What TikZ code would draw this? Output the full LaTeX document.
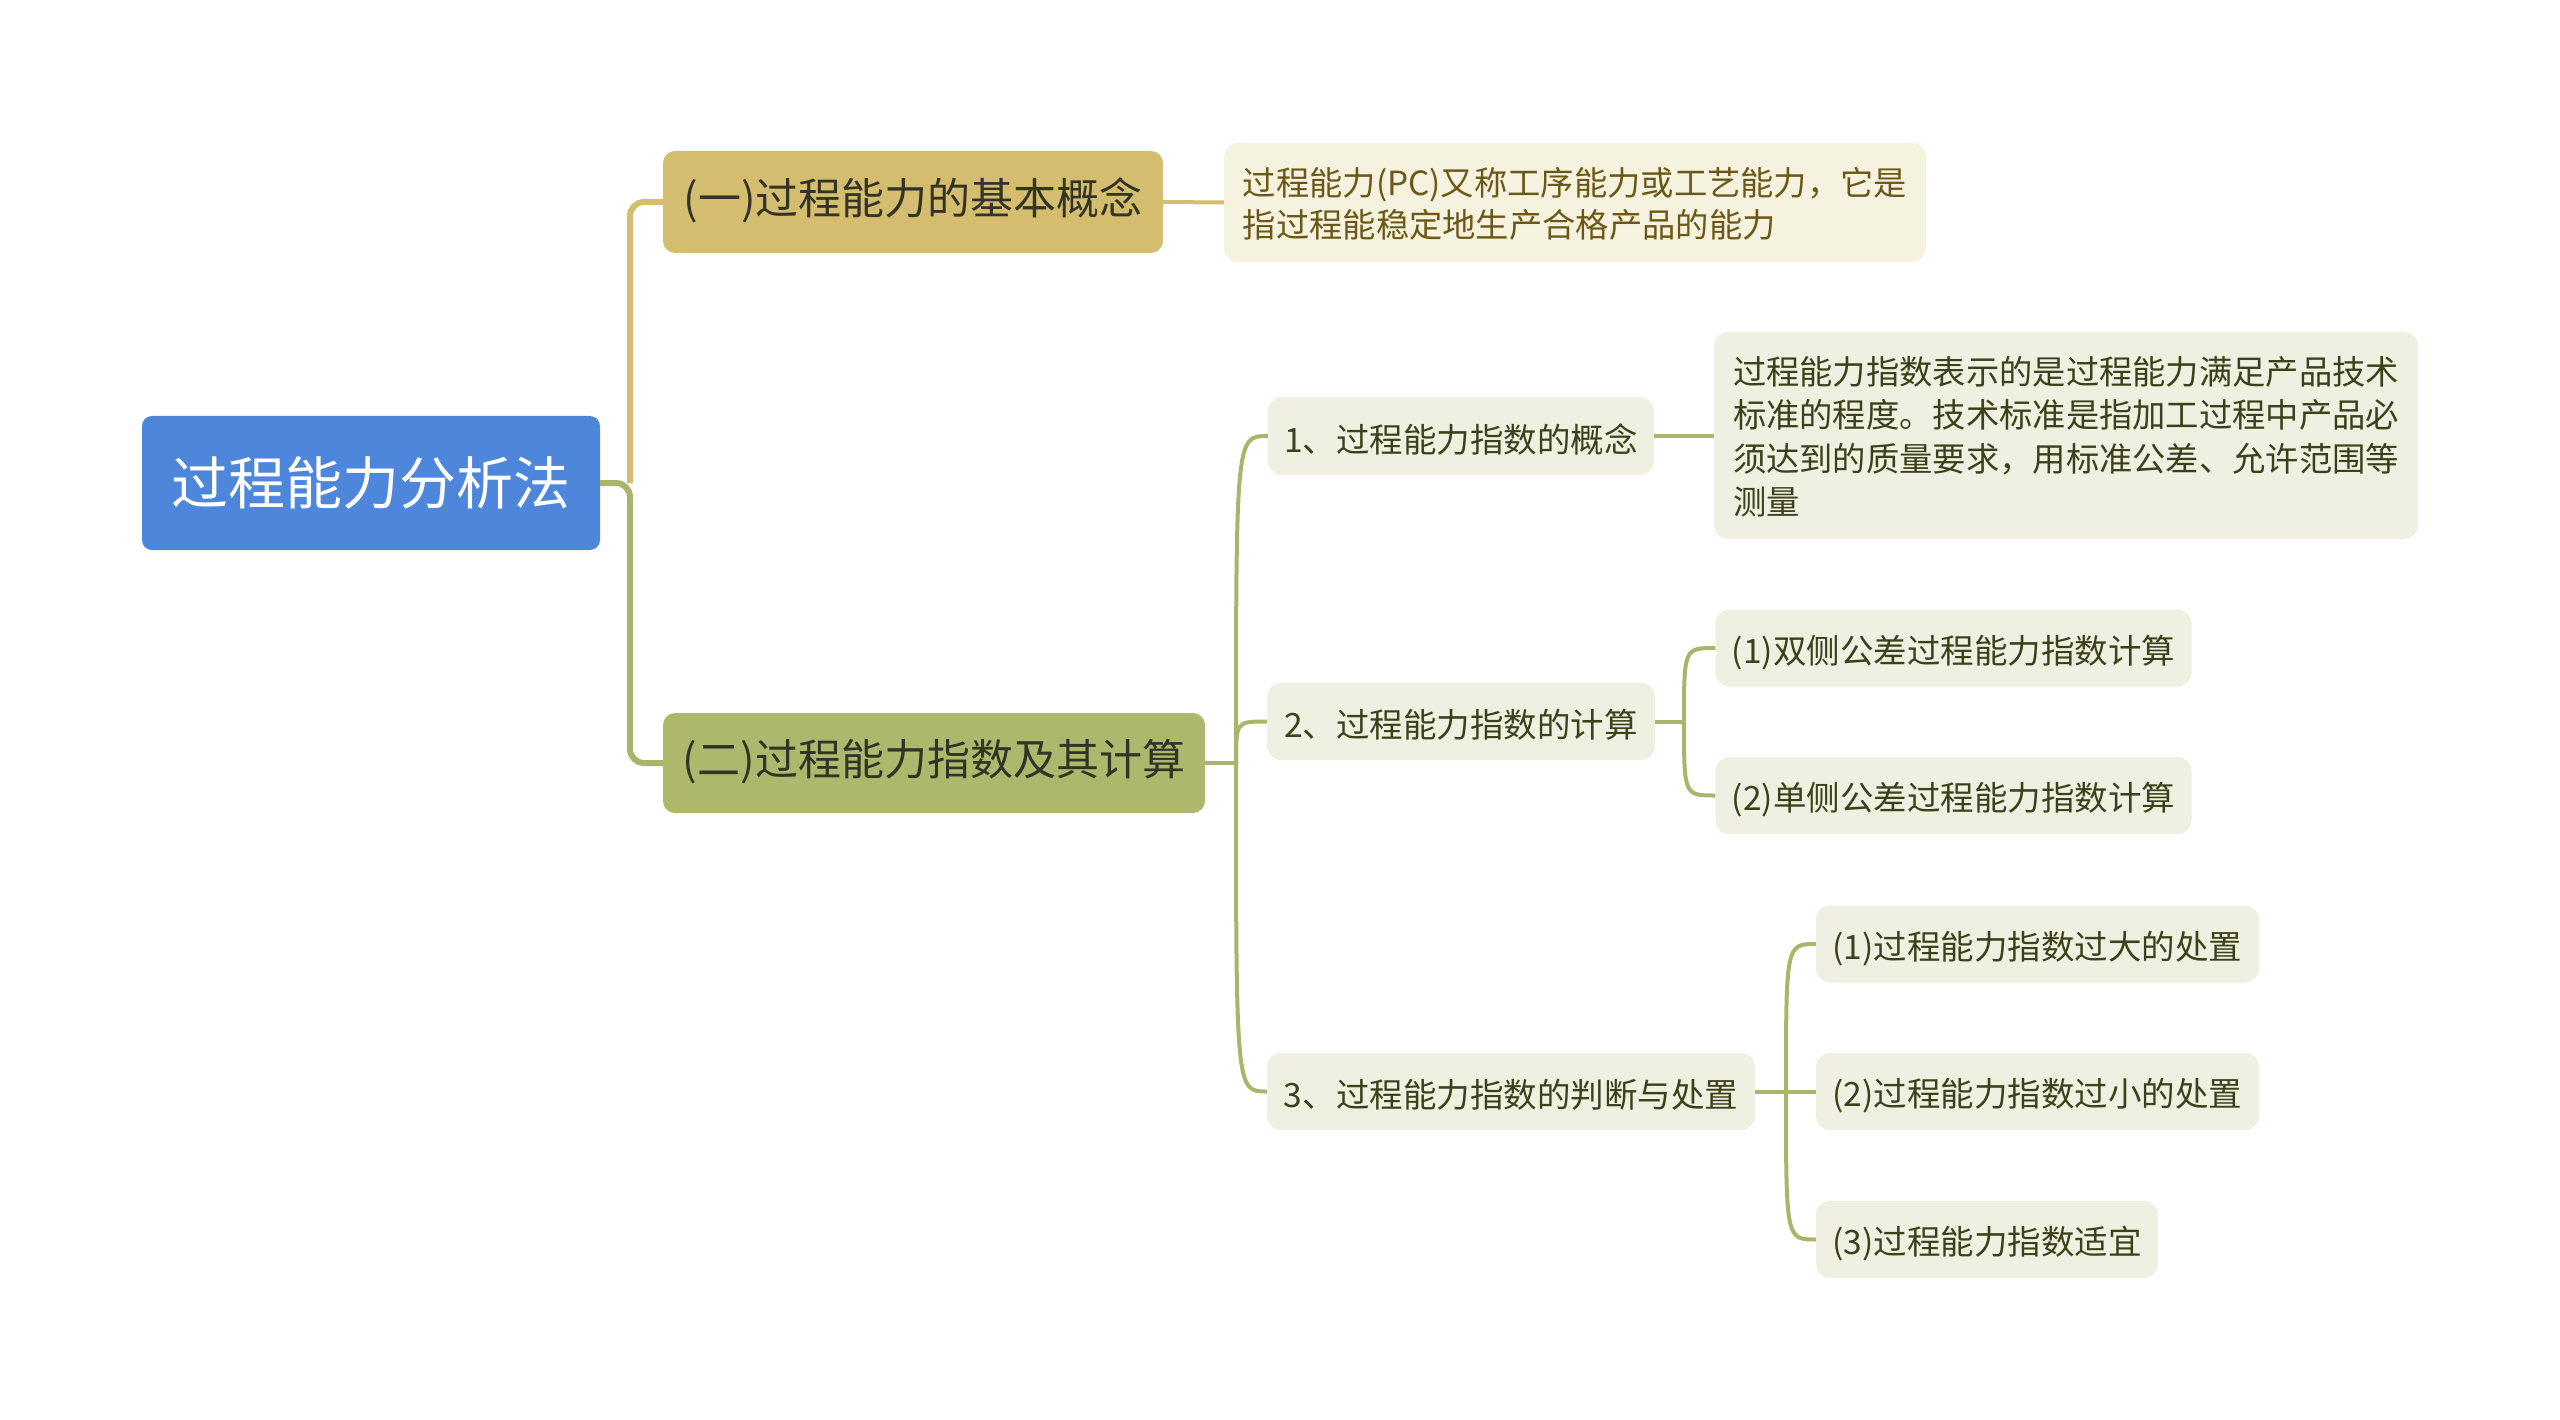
\documentclass[tikz,border=0pt]{standalone}
\usepackage{fontspec}
\setmainfont{Noto Sans CJK SC}
\usetikzlibrary{calc}
\definecolor{rootblue}{RGB}{77,134,218}
\definecolor{goldfill}{RGB}{212,189,110}
\definecolor{olivefill}{RGB}{174,184,109}
\definecolor{descfill}{RGB}{246,242,224}
\definecolor{leaffill}{RGB}{239,239,226}
\definecolor{darktext}{RGB}{51,51,38}
\definecolor{desctext}{RGB}{107,88,22}
\definecolor{leaftext}{RGB}{61,64,25}
\definecolor{goldline}{RGB}{212,190,110}
\definecolor{oliveline}{RGB}{170,180,106}
\newcommand{\shifttext}[2]{\raisebox{#1}[\height][\depth]{#2}}
\newcommand{\desclines}[2]{\raisebox{#1}[\height][\depth]{\begin{tabular}{@{}l@{}}#2\end{tabular}}}
\begin{document}
\begin{tikzpicture}[x=1pt,y=-1pt,
  base/.style={inner sep=0pt, anchor=center, align=center},
  rootbox/.style={base, fill=rootblue, rounded corners=10pt, text=white,
    font=\fontsize{57}{68}\selectfont},
  lonebox/.style={base, rounded corners=12pt, text=darktext,
    font=\fontsize{43}{52}\selectfont},
  leafbox/.style={base, fill=leaffill, rounded corners=14pt, text=leaftext,
    font=\fontsize{33.5}{42.5}\selectfont},
  descbox/.style={base, rounded corners=14pt},
  mainline/.style={line width=6pt},
  subline/.style={line width=4pt, oliveline},
  curve/.style={to path={.. controls (\tikztostart |- \tikztotarget) and (\tikztostart |- \tikztotarget) .. (\tikztotarget)}}
]
\useasboundingbox (0,0) rectangle (2560,1420);

% nodes
\node[rootbox, minimum width=458pt, minimum height=134pt] (root) at (371,483) {过程能力分析法};
\node[lonebox, fill=goldfill, minimum width=500pt, minimum height=102pt] (l1a) at (913,202) {\shifttext{1.5pt}{(一)过程能力的基本概念}};
\node[lonebox, fill=olivefill, minimum width=542pt, minimum height=100pt] (l1b) at (934,763) {\shifttext{1.5pt}{(二)过程能力指数及其计算}};

\node[descbox, fill=descfill, text=desctext, minimum width=702pt, minimum height=119pt,
  font=\fontsize{33.3}{42}\selectfont] (desca) at (1575,202.5)
  {\desclines{-6pt}{过程能力(PC)又称工序能力或工艺能力，它是\\指过程能稳定地生产合格产品的能力}};

\node[leafbox, minimum width=386pt, minimum height=78pt] (c1) at (1461,436) {\shifttext{-3.5pt}{1、过程能力指数的概念}};
\node[descbox, fill=leaffill, text=leaftext, minimum width=704pt, minimum height=207pt,
  font=\fontsize{33.3}{43.5}\selectfont] (descb) at (2066,435.5)
  {\desclines{-5.5pt}{过程能力指数表示的是过程能力满足产品技术\\标准的程度。技术标准是指加工过程中产品必\\须达到的质量要求，用标准公差、允许范围等\\测量}};

\node[leafbox, minimum width=388pt, minimum height=77pt] (c2) at (1461,721.5) {\shifttext{-3.5pt}{2、过程能力指数的计算}};
\node[leafbox, minimum width=476pt, minimum height=77pt] (c21) at (1953.5,648) {\shifttext{-4.5pt}{(1)双侧公差过程能力指数计算}};
\node[leafbox, minimum width=476pt, minimum height=77pt] (c22) at (1953.5,795.5) {\shifttext{-4.5pt}{(2)单侧公差过程能力指数计算}};

\node[leafbox, minimum width=488pt, minimum height=77pt] (c3) at (1511,1091.5) {\shifttext{-3.5pt}{3、过程能力指数的判断与处置}};
\node[leafbox, minimum width=443pt, minimum height=77pt] (c31) at (2037.5,944) {\shifttext{-4.5pt}{(1)过程能力指数过大的处置}};
\node[leafbox, minimum width=443pt, minimum height=77pt] (c32) at (2037.5,1091.5) {\shifttext{-4.5pt}{(2)过程能力指数过小的处置}};
\node[leafbox, minimum width=342pt, minimum height=77pt] (c33) at (1987,1239.5) {\shifttext{-4.5pt}{(3)过程能力指数适宜}};

% junctions
\coordinate (j0) at (630,483);
\coordinate (j1) at (1236,763);
\coordinate (j2) at (1684,721.5);
\coordinate (j3) at (1786,1091.5);

% root connectors
\draw[mainline, goldline, rounded corners=14pt] (j0) |- (l1a.west);
\draw[mainline, oliveline, rounded corners=14pt] (root.east) -- (j0) |- (l1b.west);

% first branch
\draw[line width=4pt, goldline] (l1a.east) -- (desca.west);

% second branch
\draw[subline] (l1b.east) -- (j1);
\draw[subline] (j1) to[curve] (c1.west);
\draw[subline] (j1) to[curve] (c2.west);
\draw[subline] (j1) to[curve] (c3.west);

\draw[subline] (c1.east) -- (descb.west |- c1.east);

\draw[subline] (c2.east) -- (j2);
\draw[subline] (j2) to[curve] (c21.west);
\draw[subline] (j2) to[curve] (c22.west);

\draw[subline] (c3.east) -- (j3);
\draw[subline] (j3) to[curve] (c31.west);
\draw[subline] (j3) -- (c32.west);
\draw[subline] (j3) to[curve] (c33.west);
\end{tikzpicture}
\end{document}
